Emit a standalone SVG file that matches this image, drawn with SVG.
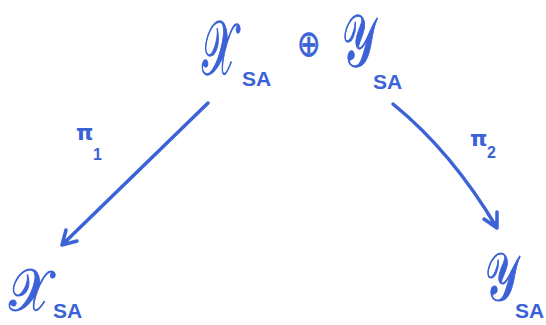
<svg xmlns="http://www.w3.org/2000/svg" width="546" height="325" viewBox="0 0 546 325">
<style>
.big{font-family:"DejaVu Sans","Noto Sans",sans-serif;font-size:56px;fill:#3b62d6;stroke:#3b62d6;stroke-width:1}
.sub{font-family:"Liberation Sans","DejaVu Sans",sans-serif;font-size:21px;font-weight:bold;fill:#3b62d6}
.lbl{font-family:"DejaVu Sans","Noto Sans",sans-serif;font-size:22px;font-weight:bold;fill:#3b62d6}
.lsub{font-family:"Liberation Sans",sans-serif;font-size:16px;font-weight:bold;fill:#3b62d6}
.edge{fill:none;stroke:#3b62d6;stroke-width:3.5;stroke-linecap:round;stroke-linejoin:round}
</style>
<rect width="546" height="325" fill="#ffffff"/>
<g id="node-sum">
<text class="big" transform="translate(202,74) scale(0.7,1.35)">𝒳</text>
<text class="sub" x="242" y="86">SA</text>
<text class="big" transform="translate(297,56) scale(1,1.3)" style="font-size:28px;stroke-width:0.5">⊕</text>
<text class="big" transform="translate(342,66) scale(0.75,1.3)">𝒴</text>
<text class="sub" x="373" y="89">SA</text>
</g>
<g id="node-x">
<text class="big" transform="translate(9,310) scale(0.85,1.05)">𝒳</text>
<text class="sub" x="53" y="318">SA</text>
</g>
<g id="node-y">
<text class="big" transform="translate(485,300) scale(0.75,1.2)">𝒴</text>
<text class="sub" x="515" y="318">SA</text>
</g>
<g id="connectors">
<path class="edge" d="M208,103 L62,245 M66,230 L62,245 L77,241"/>
<path class="edge" d="M393,104 Q452,152 497,228 M484,219 L497,228 L497,212"/>
<text class="lbl" x="76" y="140">π</text>
<text class="lsub" x="93" y="160">1</text>
<text class="lbl" x="470" y="146">π</text>
<text class="lsub" x="487" y="158">2</text>
</g>
</svg>
